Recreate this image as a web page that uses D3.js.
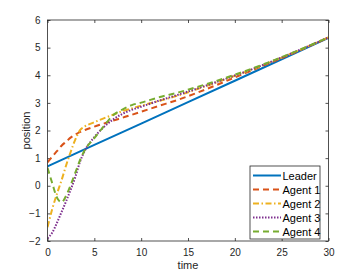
<!DOCTYPE html>
<html lang="en">
<head>
  <meta charset="UTF-8" />
  <title>Leader / agents position</title>
  <style>
    body { margin: 0; background: #fff; }
    svg { display: block; font-family: "Liberation Sans", Arial, sans-serif; }
    .tick text { fill: #262626; font-size: 10px; }
  </style>
</head>
<body>
  <div id="chart"></div>
  <script src="https://cdnjs.cloudflare.com/ajax/libs/d3/7.8.4/d3.min.js"></script>
  <script>
    // sample times
    const times = [0, 0.5, 1, 1.5, 2, 2.5, 3, 3.5, 4, 5, 6, 7, 8, 9, 10, 12, 14, 16, 18, 20, 22, 25, 30];

    const leaderTimes = [0, 5, 10, 15, 20, 25, 30];
    const leader = [0.7, 1.48, 2.25, 3.03, 3.8, 4.58, 5.35];

    const agent1 = [0.85, 1.05, 1.25, 1.45, 1.6, 1.75, 1.86, 1.95, 2.02, 2.14, 2.25, 2.36, 2.46, 2.57, 2.68, 2.9, 3.12, 3.37, 3.64, 3.92, 4.2, 4.62, 5.36];
    const agent2 = [-1.5, -0.85, -0.3, 0.2, 0.75, 1.25, 1.7, 2.02, 2.15, 2.3, 2.44, 2.57, 2.7, 2.8, 2.9, 3.08, 3.27, 3.5, 3.74, 3.98, 4.23, 4.64, 5.37];
    const agent3 = [-1.9, -1.7, -1.35, -0.95, -0.55, -0.12, 0.35, 0.9, 1.28, 1.76, 2.12, 2.4, 2.6, 2.75, 2.86, 3.09, 3.3, 3.52, 3.75, 3.99, 4.24, 4.645, 5.37];
    const agent4 = [0.65, 0.1, -0.42, -0.6, -0.35, 0.05, 0.5, 0.95, 1.3, 1.72, 2.15, 2.55, 2.76, 2.92, 3.01, 3.21, 3.38, 3.58, 3.79, 4.02, 4.26, 4.655, 5.37];

    const xTicks = [0, 5, 10, 15, 20, 25, 30];
    const yTicks = [-2, -1, 0, 1, 2, 3, 4, 5, 6];

    const series = [
      { name: "Leader",  t: leaderTimes, v: leader, color: "#0072BD", dash: null,          width: 2 },
      { name: "Agent 1", t: times, v: agent1, color: "#D95319", dash: "6,4",        width: 2 },
      { name: "Agent 2", t: times, v: agent2, color: "#EDB120", dash: "6,2.5,1.5,2.5", width: 2 },
      { name: "Agent 3", t: times, v: agent3, color: "#7E2F8E", dash: "1.5,1.5",    width: 2 },
      { name: "Agent 4", t: times, v: agent4, color: "#77AC30", dash: "6,4",        width: 2 }
    ];

    const width = 363, height = 273;
    const margin = { top: 20, right: 34.5, bottom: 32, left: 47.5 };
    const iw = width - margin.left - margin.right;
    const ih = height - margin.top - margin.bottom;

    const svg = d3.select("#chart").append("svg").attr("width", width).attr("height", height);
    const g = svg.append("g").attr("transform", `translate(${margin.left},${margin.top})`);

    const x = d3.scaleLinear().domain([0, 30]).range([0, iw]);
    const y = d3.scaleLinear().domain([-2, 6]).range([ih, 0]);

    const axisColor = "#262626";
    function styleAxis(sel, showText) {
      sel.select(".domain").remove();
      sel.selectAll(".tick line").attr("stroke", axisColor).attr("stroke-width", 0.8);
      if (!showText) sel.selectAll(".tick text").remove();
    }

    g.append("g").attr("transform", `translate(0,${ih})`)
      .call(d3.axisBottom(x).tickValues(xTicks).tickSizeInner(-3).tickSizeOuter(0).tickPadding(8))
      .call(s => styleAxis(s, true));
    g.append("g")
      .call(d3.axisTop(x).tickValues(xTicks).tickSizeInner(-3).tickSizeOuter(0))
      .call(s => styleAxis(s, false));
    g.append("g")
      .call(d3.axisLeft(y).tickValues(yTicks).tickSizeInner(-3).tickSizeOuter(0).tickPadding(7))
      .call(s => styleAxis(s, true));
    g.append("g").attr("transform", `translate(${iw},0)`)
      .call(d3.axisRight(y).tickValues(yTicks).tickSizeInner(-3).tickSizeOuter(0))
      .call(s => styleAxis(s, false));

    // lines
    const clip = svg.append("clipPath").attr("id", "clip")
      .append("rect").attr("width", iw).attr("height", ih);
    const plot = g.append("g").attr("clip-path", "url(#clip)");
    series.forEach(s => {
      const pts = s.t.map((t, i) => [t, s.v[i]]);
      const line = d3.line()
        .x(d => x(d[0])).y(d => y(d[1]))
        .curve(s.dash === null ? d3.curveLinear : d3.curveMonotoneX);
      plot.append("path")
        .attr("d", line(pts))
        .attr("fill", "none")
        .attr("stroke", s.color)
        .attr("stroke-width", s.width)
        .attr("stroke-dasharray", s.dash);
    });

    // box
    g.append("rect").attr("width", iw).attr("height", ih)
      .attr("fill", "none").attr("stroke", axisColor).attr("stroke-width", 0.8);

    // axis labels
    svg.append("text").attr("x", margin.left + iw / 2).attr("y", 269)
      .attr("text-anchor", "middle").attr("font-size", 11).attr("fill", axisColor).text("time");
    svg.append("text").attr("transform", `translate(30,${margin.top + ih / 2}) rotate(-90)`)
      .attr("text-anchor", "middle").attr("font-size", 11).attr("fill", axisColor).text("position");

    // legend
    const lg = svg.append("g").attr("transform", "translate(250,166)");
    lg.append("rect").attr("width", 70).attr("height", 73)
      .attr("fill", "#fff").attr("stroke", axisColor).attr("stroke-width", 0.8);
    series.forEach((s, i) => {
      const yy = 9.5 + i * 14;
      lg.append("line").attr("x1", 3).attr("x2", 31).attr("y1", yy).attr("y2", yy)
        .attr("stroke", s.color).attr("stroke-width", s.width)
        .attr("stroke-dasharray", s.dash);
      lg.append("text").attr("x", 32.5).attr("y", yy + 4)
        .attr("font-size", 11).attr("fill", "#000").text(s.name);
    });
  </script>
</body>
</html>
